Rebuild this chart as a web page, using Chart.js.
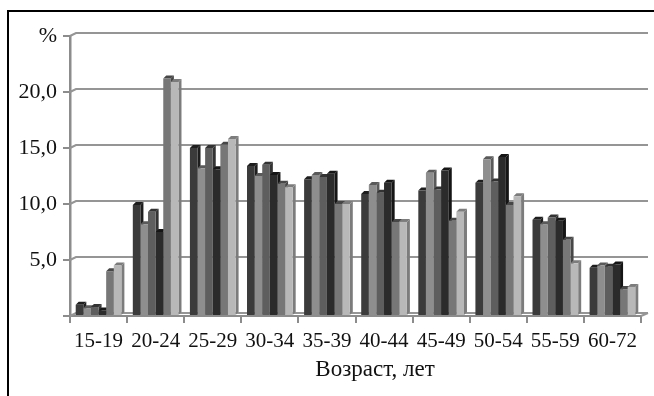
<!DOCTYPE html>
<html>
<head>
<meta charset="utf-8">
<script src="https://cdn.jsdelivr.net/npm/chart.js@4"></script>
<style>
  html, body { margin: 0; padding: 0; background: #fff; }
  #wrap { position: relative; width: 654px; height: 396px; overflow: hidden; }
  #frame { position: absolute; left: 7px; top: 10px; right: -5px; bottom: -5px;
           border-top: 2px solid #000; border-left: 2px solid #000; }
  #xtitle { position: absolute; left: 255px; width: 240px; top: 356px; text-align: center;
            font: 23px/26px "Liberation Serif", "DejaVu Serif", serif; color: #111; }
  canvas { position: absolute; left: 0; top: 0; }
</style>
</head>
<body>
<div id="wrap">
  <div id="frame"></div>
  <canvas id="chart" width="654" height="396"></canvas>
  <div id="xtitle">Возраст, лет</div>
</div>
<script>
const categories = ["15-19", "20-24", "25-29", "30-34", "35-39", "40-44", "45-49", "50-54", "55-59", "60-72"];
const series1 = [1.0, 9.9, 15.0, 13.4, 12.2, 10.9, 11.2, 11.9, 8.6, 4.3];
const series2 = [0.7, 8.2, 13.2, 12.5, 12.6, 11.7, 12.8, 14.0, 8.2, 4.5];
const series3 = [0.8, 9.3, 15.0, 13.5, 12.4, 11.0, 11.3, 12.0, 8.8, 4.4];
const series4 = [0.5, 7.5, 13.1, 12.6, 12.7, 11.9, 13.0, 14.2, 8.5, 4.6];
const series5 = [4.0, 21.2, 15.3, 11.8, 10.0, 8.4, 8.5, 9.9, 6.8, 2.4];
const series6 = [4.5, 20.9, 15.8, 11.5, 10.0, 8.4, 9.3, 10.7, 4.7, 2.6];
const yTicks = [0, 5, 10, 15, 20, 25];

const colors = ["#3b3b3b", "#8e8e8e", "#5e5e5e", "#2b2b2b", "#777777", "#b8b8b8"];
const sideColors = ["#1e1e1e", "#5a5a5a", "#333333", "#151515", "#474747", "#7c7c7c"];
const depthX = 3, depthY = 3;

// back-plane gridlines, offset like the 3D original
const gridPlugin = {
  id: "grid3d",
  beforeDatasetsDraw(chart) {
    const ctx = chart.ctx;
    const y = chart.scales.y;
    const area = chart.chartArea;
    ctx.save();
    ctx.strokeStyle = "#959595";
    ctx.lineWidth = 2;
    yTicks.forEach(function (v) {
      const py = y.getPixelForValue(v);
      ctx.beginPath();
      ctx.moveTo(area.left, py);
      ctx.lineTo(area.left + 6, py - depthY);
      ctx.lineTo(area.right + 7, py - depthY);
      ctx.stroke();
    });
    // right edge of the floor
    const p0 = y.getPixelForValue(0);
    ctx.beginPath();
    ctx.moveTo(area.right, p0);
    ctx.lineTo(area.right + 7, p0 - depthY);
    ctx.stroke();
    // depth faces of the bars
    chart.data.datasets.forEach(function (ds, i) {
      const meta = chart.getDatasetMeta(i);
      meta.data.forEach(function (bar) {
        const left = bar.x - bar.width / 2;
        const right = bar.x + bar.width / 2;
        const top = bar.y;
        const bottom = bar.base;
        ctx.fillStyle = sideColors[i];
        ctx.beginPath();
        ctx.moveTo(right, top);
        ctx.lineTo(right + depthX, top - depthY);
        ctx.lineTo(right + depthX, bottom - depthY);
        ctx.lineTo(right, bottom);
        ctx.closePath();
        ctx.fill();
        ctx.beginPath();
        ctx.moveTo(left, top);
        ctx.lineTo(left + depthX, top - depthY);
        ctx.lineTo(right + depthX, top - depthY);
        ctx.lineTo(right, top);
        ctx.closePath();
        ctx.fill();
      });
    });
    ctx.restore();
  }
};

const allSeries = [series1, series2, series3, series4, series5, series6];

new Chart(document.getElementById("chart"), {
  type: "bar",
  data: {
    labels: categories,
    datasets: allSeries.map(function (s, i) {
      return {
        label: "Ряд " + (i + 1),
        data: s,
        backgroundColor: colors[i],
        borderWidth: 0,
        categoryPercentage: 0.8,
        barPercentage: 1.0
      };
    })
  },
  options: {
    responsive: false,
    animation: false,
    layout: { padding: { top: 36, right: 13, bottom: 0, left: 0 } },
    plugins: { legend: { display: false }, tooltip: { enabled: false } },
    scales: {
      x: {
        grid: { display: true, drawOnChartArea: false, drawTicks: true, tickLength: 7, offset: true, color: "#8c8c8c", lineWidth: 2 },
        border: { display: true, color: "#8c8c8c", width: 2 },
        ticks: { color: "#111", padding: 6, maxRotation: 0, autoSkip: false,
                 font: { family: "'Liberation Serif', serif", size: 21 } },
        afterFit: function (scale) { scale.height = 80; }
      },
      y: {
        min: 0,
        max: 25,
        afterBuildTicks: function (scale) {
          scale.ticks = yTicks.map(function (v) { return { value: v }; });
        },
        grid: { display: true, drawOnChartArea: false, drawTicks: true, tickLength: 7, color: "#8c8c8c", lineWidth: 2 },
        border: { display: true, color: "#8c8c8c", width: 2.5 },
        ticks: {
          color: "#111",
          padding: 6,
          font: { family: "'Liberation Serif', serif", size: 22 },
          callback: function (v) {
            if (v === 25) return "%";
            if (v === 0) return "";
            return v.toFixed(1).replace(".", ",");
          }
        },
        afterFit: function (scale) { scale.width = 70; }
      }
    }
  },
  plugins: [gridPlugin]
});
</script>
</body>
</html>
